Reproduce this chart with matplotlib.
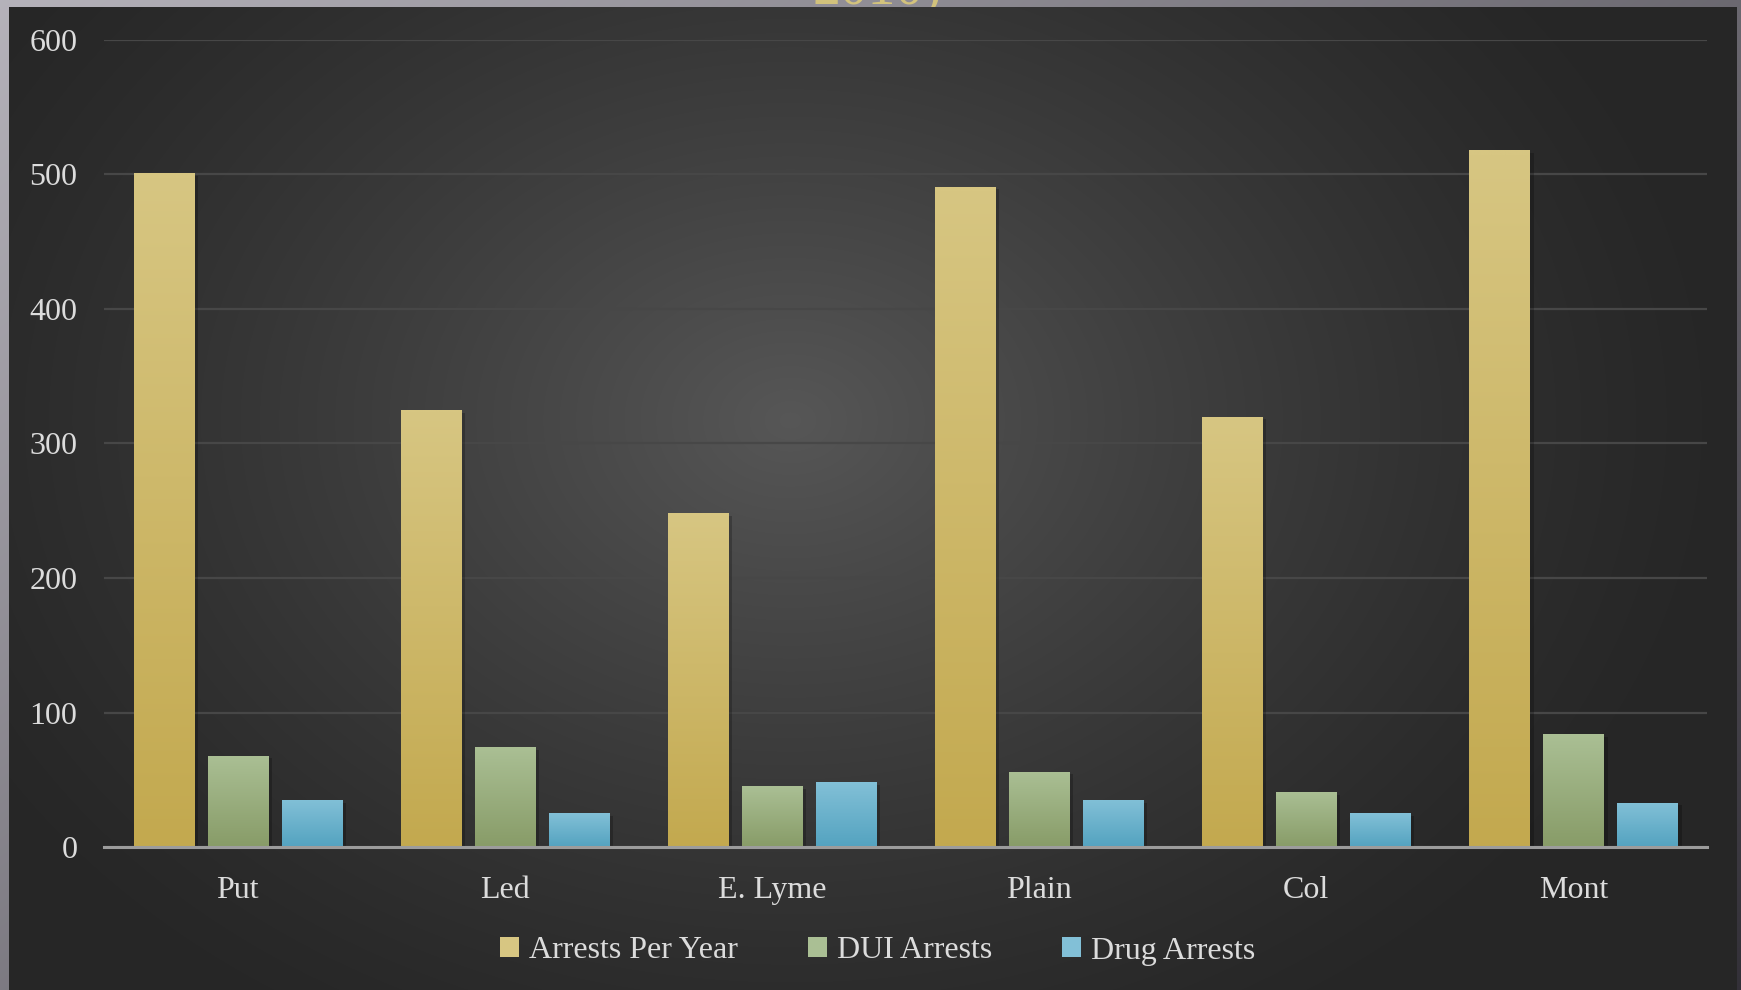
import numpy as np
import matplotlib
matplotlib.use('Agg')
import matplotlib.pyplot as plt
import matplotlib.patheffects as pe
from matplotlib.patches import Patch

# data
towns = ['Put', 'Led', 'E. Lyme', 'Plain', 'Col', 'Mont']
arrests_per_year = [501, 325, 248, 491, 320, 518]
dui_arrests = [68, 74, 45, 56, 41, 84]
drug_arrests = [35, 25, 48, 35, 25, 33]
series_names = ['Arrests Per Year', 'DUI Arrests', 'Drug Arrests']

# (top colour, bottom colour) for each series
grads = [('#d7c682', '#c3a94f'),
         ('#aabf94', '#889c68'),
         ('#82c0d7', '#54a3c0')]

W, H = 1741, 990
plt.rcParams['font.family'] = ['Liberation Serif', 'DejaVu Serif']
fig = plt.figure(figsize=(W / 100, H / 100), dpi=100)

# ---- background: grey slide + dark panel with a radial glow
bg = fig.add_axes([0, 0, 1, 1])
bg.set_axis_off()
yy, xx = np.mgrid[0:H, 0:W]
c = 0.71 - 0.29 * xx / W - 0.22 * yy / H
outer = np.dstack([c, c - 0.01, c + 0.02])
bg.imshow(outer, extent=[0, W, H, 0], aspect='auto', zorder=0)

# title that sits mostly off the top of the slide
bg.text(877, 4, '2010)', color='#d2c27c', fontsize=40,
        ha='center', va='baseline', zorder=1)

px0, px1, py0, py1 = 9, 1737, 7, H
pyy, pxx = np.mgrid[py0:py1, px0:px1]
d = np.sqrt(((pxx - 790) / 950.0) ** 2 + ((pyy - 420) / 720.0) ** 2)
pc = 0.15 + 0.19 * np.clip(1 - d, 0, 1) ** 1.3
panel = np.dstack([pc, pc, pc])
bg.imshow(panel, extent=[px0, px1, py1, py0], aspect='auto', zorder=2)
bg.set_xlim(0, W)
bg.set_ylim(H, 0)

# ---- main chart
ax = fig.add_axes([104 / W, 143 / H, (1707 - 104) / W, (847 - 40) / H])
ax.patch.set_alpha(0)

x = np.arange(len(towns))
width = 0.225
step = 0.277
all_series = [arrests_per_year, dui_arrests, drug_arrests]
shadow = [pe.SimplePatchShadow(offset=(3, -2), shadow_rgbFace='black', alpha=0.22),
          pe.Normal()]

for k, vals in enumerate(all_series):
    top, bot = grads[k]
    bars = ax.bar(x + (k - 1) * step, vals, width, color=bot, zorder=3,
                  path_effects=shadow)
    t = np.array(matplotlib.colors.to_rgb(top))
    b = np.array(matplotlib.colors.to_rgb(bot))
    ramp = np.linspace(0, 1, 64)[:, None]
    img = (t * (1 - ramp) + b * ramp)[:, None, :]
    for bar in bars:
        bx, bw, bh = bar.get_x(), bar.get_width(), bar.get_height()
        im = ax.imshow(img, extent=[bx, bx + bw, 0, bh], aspect='auto',
                       zorder=4, interpolation='bilinear')
        im.set_clip_path(bar)

ax.set_xlim(-0.5, len(towns) - 0.5)
ax.set_ylim(0, 600)
ax.set_yticks(range(0, 601, 100))
ax.set_xticks(x)
ax.set_xticklabels(towns)
ax.yaxis.grid(True, color='#474747', linewidth=1.6, zorder=1)
ax.set_axisbelow(True)
for s in ['top', 'right', 'left']:
    ax.spines[s].set_visible(False)
ax.spines['bottom'].set_color('#9c9c9c')
ax.spines['bottom'].set_linewidth(2.2)
ax.spines['bottom'].set_zorder(5)
ax.tick_params(axis='both', length=0, colors='#dcdcdc', labelsize=23)
ax.tick_params(axis='y', pad=19)
ax.tick_params(axis='x', pad=21)

handles = [Patch(facecolor=grads[k][0], edgecolor='none') for k in range(3)]
fig.legend(handles, series_names, loc='center', bbox_to_anchor=(0.504, 1 - 951 / H),
           ncol=3, frameon=False, fontsize=23, labelcolor='#dcdcdc',
           handlelength=0.6, handleheight=0.6, handletextpad=0.3, columnspacing=2.2)

fig.savefig('out.png', dpi=100)
